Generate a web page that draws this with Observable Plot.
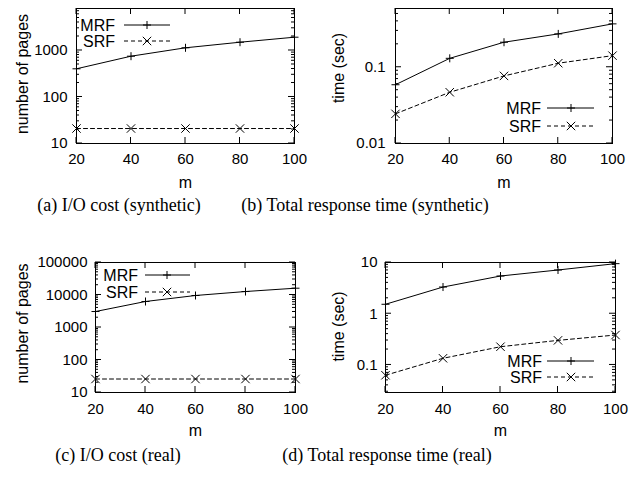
<!DOCTYPE html>
<html><head><meta charset="utf-8">
<script src="https://cdn.jsdelivr.net/npm/d3@7"></script>
<script src="https://cdn.jsdelivr.net/npm/@observablehq/plot@0.6"></script>
<style>
body{margin:0;background:#fff}
#root{position:relative;width:643px;height:481px;overflow:hidden;background:#fff}
.panel{position:absolute}
.cap{position:absolute;font-family:"Liberation Serif","Times New Roman",serif;font-size:18px;line-height:18px;white-space:nowrap;transform:translateX(-50%);color:#000}
</style></head><body><div id="root"></div>
<script>
// ---- data ----
const mValues = [20, 40, 60, 80, 100];
const seriesNames = ["MRF", "SRF"];
const ioSynMRF = [404, 754, 1143, 1507, 1932];
const ioSynSRF = [21, 21, 21, 21, 21];
const timeSynMRF = [0.059, 0.131, 0.213, 0.274, 0.371];
const timeSynSRF = [0.0245, 0.047, 0.077, 0.113, 0.142];
const ioRealMRF = [3100, 6310, 9660, 12800, 16200];
const ioRealSRF = [26, 26, 26, 26, 26];
const timeRealMRF = [1.53, 3.32, 5.45, 7.14, 9.5];
const timeRealSRF = [0.063, 0.135, 0.227, 0.302, 0.384];
const xTicks = [20, 40, 60, 80, 100];
const yTicksIoSyn = [10, 100, 1000];
const yTicksTimeSyn = [0.01, 0.1];
const yTicksIoReal = [10, 100, 1000, 10000, 100000];
const yTicksTimeReal = [0.1, 1, 10];
const yLabels = ["number of pages", "time (sec)", "number of pages", "time (sec)"];
const xLabel = "m";
const captions = ["(a) I/O cost (synthetic)", "(b) Total response time (synthetic)", "(c) I/O cost (real)", "(d) Total response time (real)"];

// ---- layout / styles ----
const FONT = "'Liberation Sans', Arial, Helvetica, sans-serif";
const panels = [
  {mrf: ioSynMRF, srf: ioSynSRF, yDomain: [10, 8000], yTicks: yTicksIoSyn, ylabel: yLabels[0],
   left: 0, top: 0, width: 320, height: 195, mL: 76, mR: 26, mT: 8, mB: 52, xPad: 10, yPad: 9,
   ylDx: -54, ylDy: -2, xlDy: 39,
   legend: {corner: "tl", textEnd: 39, l1: 48, l2: 94, mk: 71, rows: [17, 33]}},
  {mrf: timeSynMRF, srf: timeSynSRF, yDomain: [0.01, 0.59], yTicks: yTicksTimeSyn, ylabel: yLabels[1],
   left: 320, top: 0, width: 323, height: 195, mL: 75, mR: 31, mT: 8, mB: 52, xPad: 10, yPad: 10,
   ylDx: -57, ylDy: -8, xlDy: 39,
   legend: {corner: "br", textEnd: -71, l1: -65, l2: -18, mk: -41, rows: [-35, -17]}},
  {mrf: ioRealMRF, srf: ioRealSRF, yDomain: [10, 100000], yTicks: yTicksIoReal, ylabel: yLabels[2],
   left: 0, top: 230, width: 320, height: 215, mL: 95, mR: 25, mT: 32, mB: 53, xPad: 11, yPad: 8,
   ylDx: -73, ylDy: -4, xlDy: 38,
   legend: {corner: "tl", textEnd: 43, l1: 50, l2: 95, mk: 72, rows: [13, 30]}},
  {mrf: timeRealMRF, srf: timeRealSRF, yDomain: [0.029, 10], yTicks: yTicksTimeReal, ylabel: yLabels[3],
   left: 320, top: 230, width: 323, height: 215, mL: 65, mR: 28, mT: 32, mB: 53, xPad: 11, yPad: 8,
   ylDx: -47, ylDy: -1, xlDy: 38,
   legend: {corner: "br", textEnd: -73, l1: -68, l2: -21, mk: -44, rows: [-31, -15]}}
];
const capPos = [[119, 196], [365, 196], [118, 446], [387, 446]];

function minorTicks([lo, hi]) {
  const out = [];
  for (let e = Math.floor(Math.log10(lo)); e <= Math.ceil(Math.log10(hi)); e++) {
    for (let k = 2; k <= 9; k++) {
      const v = k * Math.pow(10, e);
      if (v > lo && v < hi) out.push(v);
    }
  }
  return out;
}

function decorations(p) {
  return (index, scales, values, dims) => {
    const l = dims.marginLeft, t = dims.marginTop;
    const r = dims.width - dims.marginRight, b = dims.height - dims.marginBottom;
    const g = d3.create("svg:g");
    const path = d3.path();
    for (const v of xTicks) {
      const x = scales.x(v);
      path.moveTo(x, b); path.lineTo(x, b - 6);
      path.moveTo(x, t); path.lineTo(x, t + 6);
    }
    for (const v of p.yTicks) {
      const y = scales.y(v);
      path.moveTo(l, y); path.lineTo(l + 6, y);
      path.moveTo(r, y); path.lineTo(r - 6, y);
    }
    for (const v of minorTicks(p.yDomain)) {
      const y = scales.y(v);
      path.moveTo(l, y); path.lineTo(l + 3, y);
      path.moveTo(r, y); path.lineTo(r - 3, y);
    }
    g.append("path").attr("d", path.toString()).attr("stroke", "#000").attr("fill", "none").attr("stroke-width", 1);
    // legend
    const L = p.legend;
    const bx = L.corner === "tl" ? l : r;
    const by = L.corner === "tl" ? t : b;
    const syms = [d3.symbolPlus, d3.symbolTimes];
    const sizes = [23, 48];
    seriesNames.forEach((name, i) => {
      const y = by + L.rows[i];
      g.append("text").attr("x", bx + L.textEnd).attr("y", y).attr("dy", "0.35em")
        .attr("text-anchor", "end").attr("fill", "#000").attr("font-size", 16).text(name);
      g.append("line").attr("x1", bx + L.l1).attr("x2", bx + L.l2).attr("y1", y).attr("y2", y)
        .attr("stroke", "#000").attr("stroke-width", 1).attr("stroke-dasharray", i ? "4,3" : null);
      g.append("path").attr("d", d3.symbol(syms[i], sizes[i])()).attr("transform", `translate(${bx + L.mk},${y})`)
        .attr("stroke", "#000").attr("fill", "none").attr("stroke-width", 1);
    });
    return g.node();
  };
}

const root = document.getElementById("root");
panels.forEach((p, k) => {
  const rowsMRF = mValues.map((m, i) => ({m, v: p.mrf[i]}));
  const rowsSRF = mValues.map((m, i) => ({m, v: p.srf[i]}));
  const chart = Plot.plot({
    width: p.width, height: p.height,
    marginLeft: p.mL, marginRight: p.mR, marginTop: p.mT, marginBottom: p.mB,
    style: {fontFamily: FONT, fontSize: "15px", color: "#000", background: "#fff", overflow: "visible"},
    x: {domain: [20, 100], ticks: xTicks, label: null},
    y: {type: "log", domain: p.yDomain, ticks: p.yTicks, tickFormat: d => String(d), label: null},
    marks: [
      Plot.axisX({ticks: xTicks, tickSize: 0, tickPadding: p.xPad, label: null, fill: "#000"}),
      Plot.axisY({ticks: p.yTicks, tickSize: 0, tickPadding: p.yPad, tickFormat: d => String(d), label: null, fill: "#000"}),
      Plot.line(rowsMRF, {x: "m", y: "v", stroke: "#000", strokeWidth: 1}),
      Plot.line(rowsSRF, {x: "m", y: "v", stroke: "#000", strokeWidth: 1, strokeDasharray: "4,3"}),
      Plot.dot(rowsMRF, {x: "m", y: "v", symbol: "plus", r: 2.7, stroke: "#000", strokeWidth: 1}),
      Plot.dot(rowsSRF, {x: "m", y: "v", symbol: "times", r: 3.9, stroke: "#000", strokeWidth: 1}),
      Plot.text([xLabel], {frameAnchor: "bottom", dy: p.xlDy, lineAnchor: "middle", textAnchor: "middle", fill: "#000", fontSize: 16}),
      Plot.text([p.ylabel], {frameAnchor: "left", dx: p.ylDx, dy: p.ylDy, rotate: -90, lineAnchor: "middle", textAnchor: "middle", fill: "#000", fontSize: 16}),
      decorations(p),
      Plot.frame({stroke: "#000", strokeWidth: 1})
    ]
  });
  chart.classList.add("panel");
  chart.style.left = p.left + "px";
  chart.style.top = p.top + "px";
  chart.style.position = "absolute";
  root.appendChild(chart);
  const cap = document.createElement("div");
  cap.className = "cap";
  cap.textContent = captions[k];
  cap.style.left = capPos[k][0] + "px";
  cap.style.top = capPos[k][1] + "px";
  root.appendChild(cap);
});
</script></body></html>
